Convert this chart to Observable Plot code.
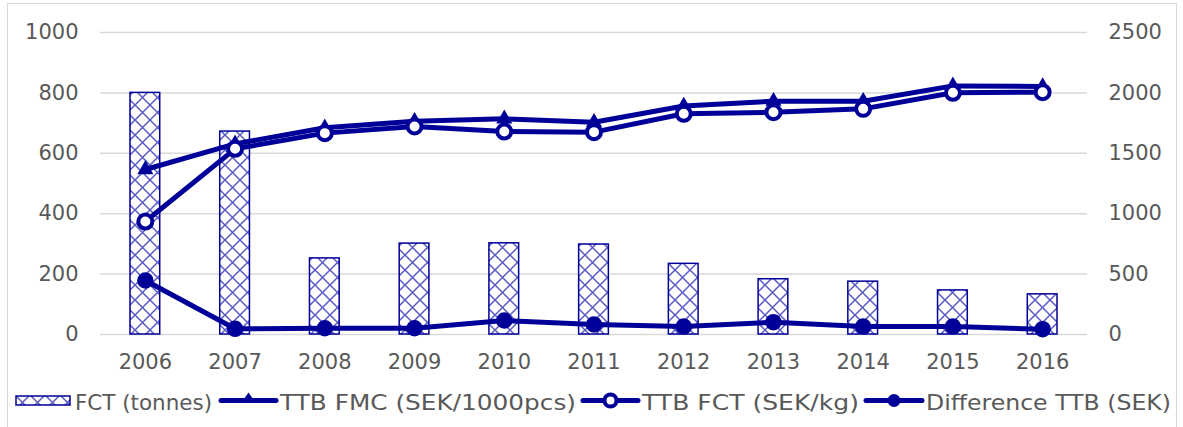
<!DOCTYPE html>
<html>
<head>
<meta charset="utf-8">
<script src="https://cdn.jsdelivr.net/npm/d3@7"></script>
<script src="https://cdn.jsdelivr.net/npm/@observablehq/plot@0.6"></script>
<style>
  html, body { margin: 0; padding: 0; background: #fff; }
  #frame { position: absolute; left: 7px; top: 3px; width: 1170px; height: 440px; border: 1px solid #d9d9d9; box-sizing: border-box; }
  #chart { position: absolute; left: 0; top: 0; }
  #legend { position: absolute; left: 0; top: 380px; }
</style>
</head>
<body>
<div id="frame"></div>
<div id="chart"></div>
<div id="legend"></div>
<script>
const years = ["2006","2007","2008","2009","2010","2011","2012","2013","2014","2015","2016"];
const fctTonnes = [800, 672, 252, 301, 302, 298, 234, 183, 175, 146, 133];
const ttbFmc = [1366, 1578, 1711, 1766, 1786, 1757, 1892, 1931, 1931, 2058, 2053];
const ttbFct = [935, 1537, 1667, 1722, 1680, 1675, 1827, 1840, 1868, 2001, 2006];
const diffTtb = [447, 47, 52, 52, 116, 83, 66, 102, 66, 66, 44];
const leftTicks = [0, 200, 400, 600, 800, 1000];
const rightTicks = [0, 500, 1000, 1500, 2000, 2500];
const seriesNames = ["FCT (tonnes)", "TTB FMC (SEK/1000pcs)", "TTB FCT (SEK/kg)", "Difference TTB (SEK)"];

const ratio = 2.5; // right axis max / left axis max
const blue = "#000099";
const font = "'DejaVu Sans', Verdana, sans-serif";
const bars = years.map((y, i) => ({year: y, v: fctTonnes[i]}));
const sec = (arr) => years.map((y, i) => ({year: y, v: arr[i] / ratio}));
const fmc = sec(ttbFmc), fct = sec(ttbFct), diff = sec(diffTtb);

const plot = Plot.plot({
  width: 1183,
  height: 380,
  marginLeft: 100,
  marginRight: 96,
  marginTop: 32,
  marginBottom: 46,
  style: {fontFamily: font, fontSize: "21px", color: "#595959", background: "transparent"},
  x: {type: "band", domain: years, padding: 0, round: false},
  y: {domain: [0, 1000]},
  marks: [
    () => {
      const svg = d3.create("svg:defs");
      const p = svg.append("pattern").attr("id", "hatch").attr("patternUnits", "userSpaceOnUse")
        .attr("width", 15).attr("height", 15).attr("x", 0).attr("y", 0);
      p.append("rect").attr("width", 15).attr("height", 15).attr("fill", "#fff");
      p.append("path").attr("d", "M0,0L15,15M15,0L0,15").attr("stroke", "#5a5ac4").attr("stroke-width", 1.5).attr("fill", "none");
      return svg.node();
    },
    Plot.gridY(leftTicks, {stroke: "#d9d9d9", strokeOpacity: 1, strokeWidth: 1.5}),
    Plot.axisY(leftTicks, {anchor: "left", label: null, tickSize: 0, tickPadding: 22, fontSize: 21, fill: "#595959", tickFormat: d => String(d)}),
    Plot.axisY(rightTicks.map(d => d / ratio), {anchor: "right", label: null, tickSize: 0, tickPadding: 21, fontSize: 21, fill: "#595959", tickFormat: d => String(Math.round(d * ratio)), textAnchor: "start"}),
    Plot.axisX({tickSize: 0, tickPadding: 20, fontSize: 21, fill: "#595959", label: null}),
    Plot.barY(bars, {x: "year", y: "v", fill: "url(#hatch)", stroke: blue, strokeWidth: 1.5, insetLeft: 30, insetRight: 30}),
    Plot.line(fmc, {x: "year", y: "v", stroke: blue, strokeWidth: 5}),
    Plot.dot(fmc, {x: "year", y: "v", symbol: "triangle", r: 5, fill: blue, stroke: blue}),
    Plot.line(fct, {x: "year", y: "v", stroke: blue, strokeWidth: 5}),
    Plot.dot(fct, {x: "year", y: "v", r: 7, fill: "#fff", stroke: blue, strokeWidth: 4}),
    Plot.line(diff, {x: "year", y: "v", stroke: blue, strokeWidth: 5}),
    Plot.dot(diff, {x: "year", y: "v", r: 7.5, fill: blue, stroke: blue})
  ]
});
document.getElementById("chart").appendChild(plot);

// legend (coordinates relative to legend svg placed at top 380)
const lg = d3.select("#legend").append("svg").attr("width", 1183).attr("height", 47)
  .style("font-family", font).style("font-size", "21.5px");
const ly = 20.5;      // symbol centre line
const tb = 30;        // text baseline
const items = [
  {x0: 16, x1: 70, tx: 75, tw: 137, kind: "bar"},
  {x0: 221, x1: 276, tx: 280, tw: 296, kind: "tri"},
  {x0: 583, x1: 638, tx: 642, tw: 217, kind: "open"},
  {x0: 866, x1: 922, tx: 926, tw: 245, kind: "fill"}
];
items.forEach((it, i) => {
  const g = lg.append("g");
  const cx = (it.x0 + it.x1) / 2;
  if (it.kind === "bar") {
    g.append("rect").attr("x", it.x0).attr("y", ly - 4.5).attr("width", it.x1 - it.x0).attr("height", 9)
      .attr("fill", "url(#hatch)").attr("stroke", blue).attr("stroke-width", 1.5);
  } else {
    g.append("line").attr("x1", it.x0).attr("x2", it.x1).attr("y1", ly).attr("y2", ly)
      .attr("stroke", blue).attr("stroke-width", 5).attr("stroke-linecap", "round");
    if (it.kind === "tri") g.append("path").attr("d", `M${cx},${ly - 8}L${cx + 7},${ly + 2}L${cx - 7},${ly + 2}Z`).attr("fill", blue);
    if (it.kind === "open") g.append("circle").attr("cx", cx).attr("cy", ly).attr("r", 6).attr("fill", "#fff").attr("stroke", blue).attr("stroke-width", 4);
    if (it.kind === "fill") g.append("circle").attr("cx", cx).attr("cy", ly).attr("r", 6.5).attr("fill", blue);
  }
  g.append("text").attr("x", it.tx).attr("y", tb).attr("fill", "#595959")
    .attr("textLength", it.tw).attr("lengthAdjust", "spacingAndGlyphs").text(seriesNames[i]);
});
</script>
</body>
</html>
